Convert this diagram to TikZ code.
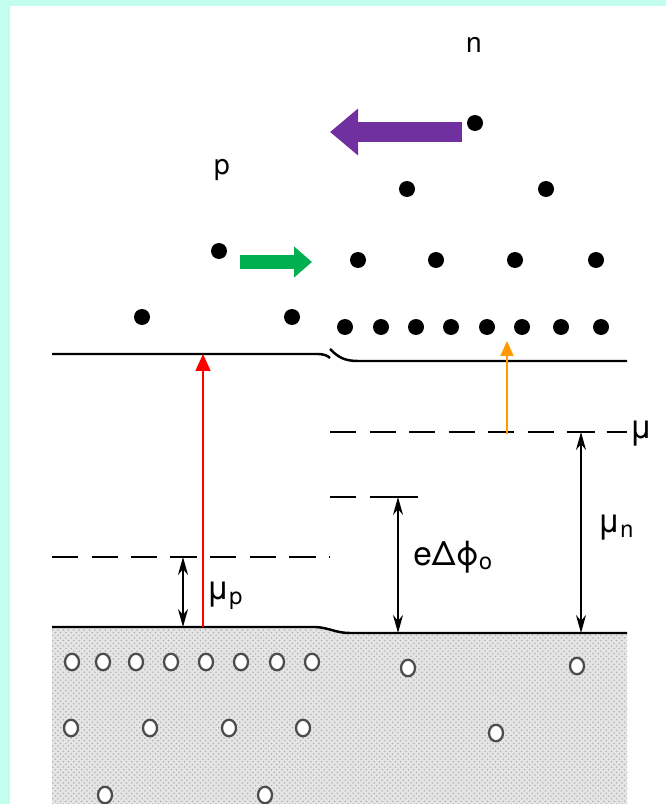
\documentclass[tikz,border=0pt]{standalone}
\usepackage{fontspec}
\setmainfont{TeX Gyre Heros}
\usetikzlibrary{arrows.meta,patterns,shapes.geometric}
\definecolor{bgcyan}{HTML}{C3FDEE}
\definecolor{pushpurple}{HTML}{7030A0}
\definecolor{pushgreen}{HTML}{00B050}
\definecolor{liftorange}{HTML}{FF9900}
\tikzset{
  electron/.style={circle, fill=black, inner sep=0pt, minimum size=0.32cm},
  hole/.style={ellipse, draw=black!70, line width=1.3pt, fill=white, inner sep=0pt, minimum width=0.28cm, minimum height=0.33cm},
  band/.style={line width=1.4pt},
  fermi/.style={line width=1.4pt, dash pattern=on 15pt off 7.5pt},
  gapline/.style={line width=0.9pt, {Stealth[length=0.36cm,width=0.2cm]}-{Stealth[length=0.36cm,width=0.2cm]}},
  lbl/.style={inner sep=0pt, anchor=west, font=\fontsize{19}{21}\selectfont},
}

\begin{document}
\begin{tikzpicture}[x=0.02cm, y=-0.02cm]
\fill[bgcyan] (0,0) rectangle (666,804);
\fill[white] (10,6) rectangle (666,804);
\useasboundingbox (0,0) rectangle (666,804);
\fill[gray!20] (52,627) -- (316,627) .. controls (330,628) and (336,633) .. (350,633) -- (627,633) -- (627,804) -- (52,804) -- cycle;
\fill[pattern=crosshatch dots, pattern color=gray!60] (52,627) -- (316,627) .. controls (330,628) and (336,633) .. (350,633) -- (627,633) -- (627,804) -- (52,804) -- cycle;
\draw[band] (52,627) -- (316,627) .. controls (330,628) and (336,633) .. (350,633) -- (627,633);
\draw[band] (52,354) -- (318,354) .. controls (324,354) and (328,356) .. (330,358);
\draw[band] (330,349) .. controls (338,357) and (344,361) .. (358,361) -- (627,361);
\draw[fermi] (52,557) -- (330,557);
\draw[fermi] (330,497) -- (418,497);
\draw[fermi] (330,432) -- (627,432);
\node[font=\fontsize{16}{18}\selectfont] (nlabel) at (474,45) {n};
\node[font=\fontsize{16}{18}\selectfont] (plabel) at (222,170) {p};
\foreach \x/\y [count=\i] in {475/123, 407/189, 546/189, 219/251, 358/260, 436/260, 515/260, 596/260, 142/317, 292/317, 345/327, 381/327, 416/327, 451/327, 487/327, 522/327, 561/327, 601/327}
  \node[electron] (e\i) at (\x,\y) {};
\foreach \x/\y [count=\i] in {72/662, 103/662, 136/662, 171/662, 206/662, 241/662, 277/662, 312/662, 408/668, 577/666, 71/728, 150/728, 229/728, 303/728, 496/733, 105/795, 265/795}
  \node[hole] (h\i) at (\x,\y) {};
\coordinate (ptop) at (183,557); \coordinate (pbot) at (183,627);
\coordinate (dtop) at (398,497); \coordinate (dbot) at (398,633);
\coordinate (ntop) at (581,432); \coordinate (nbot) at (581,633);
\foreach \c in {ptop, dtop, ntop} \draw[line width=1.4pt] ([xshift=-0.27cm]\c) -- ([xshift=0.27cm]\c);
\draw[gapline] (ptop) -- (pbot);
\draw[gapline] (dtop) -- (dbot);
\draw[gapline] (ntop) -- (nbot);
\node[lbl] (mup) at (206,596) {μ\textsubscript{p}};
\node[lbl] (dphi) at (413,557) {eΔϕ\textsubscript{o}};
\node[lbl] (mun) at (597,528) {μ\textsubscript{n}};
\node[lbl] (mu) at (629,434) {μ};
\coordinate (redfoot) at (203,627); \coordinate (redtip) at (203,354);
\draw[red, line width=1pt, -{Triangle[length=0.34cm, width=0.3cm]}] (redfoot) -- (redtip);
\coordinate (orgfoot) at (507,434); \coordinate (orgtip) at (507,341);
\draw[liftorange, line width=1pt, -{Triangle[length=0.3cm, width=0.26cm]}] (orgfoot) -- (orgtip);
\coordinate (purtail) at (462,132); \coordinate (purtip) at (330,132);
\draw[pushpurple, line width=0.4cm, -{Triangle[length=0.56cm, width=0.9cm]}] (purtail) -- (purtip);
\coordinate (grntail) at (240,262); \coordinate (grntip) at (312,262);
\draw[pushgreen, line width=0.3cm, -{Triangle[length=0.36cm, width=0.6cm]}] (grntail) -- (grntip);
\end{tikzpicture}
\end{document}
